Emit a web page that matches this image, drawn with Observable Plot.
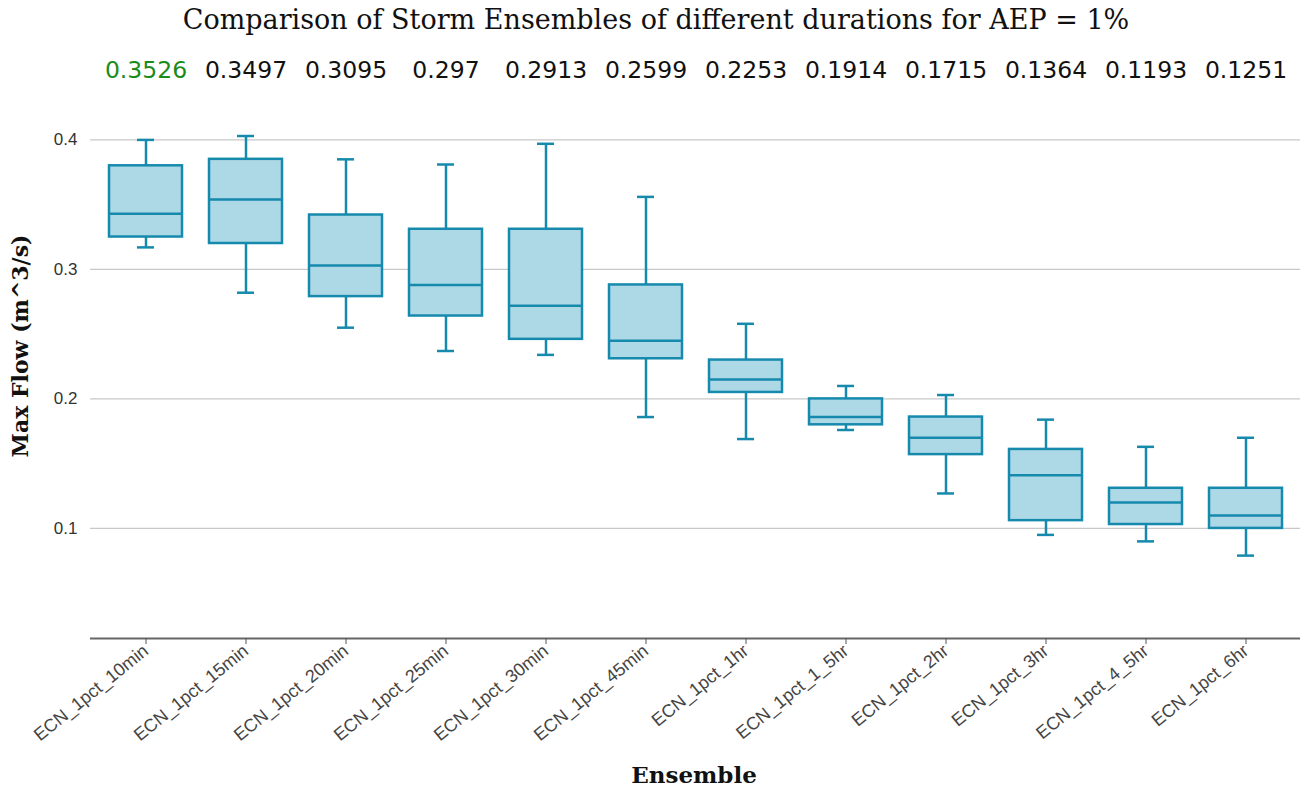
<!DOCTYPE html>
<html>
<head>
<meta charset="utf-8">
<script src="https://cdn.jsdelivr.net/npm/d3@7"></script>
<script src="https://cdn.jsdelivr.net/npm/@observablehq/plot@0.6"></script>
<style>
  html, body { margin: 0; padding: 0; background: #fff; }
  #wrap { position: relative; width: 1304px; height: 793px; }
  #title { position: absolute; top: 4px; left: 4px; width: 1304px; text-align: center;
           font-family: "DejaVu Serif", serif; font-size: 27px; color: #111; }
</style>
</head>
<body>
<div id="wrap">
  <div id="title">Comparison of Storm Ensembles of different durations for AEP = 1%</div>
</div>
<script>
const categories = ["ECN_1pct_10min","ECN_1pct_15min","ECN_1pct_20min","ECN_1pct_25min","ECN_1pct_30min","ECN_1pct_45min","ECN_1pct_1hr","ECN_1pct_1_5hr","ECN_1pct_2hr","ECN_1pct_3hr","ECN_1pct_4_5hr","ECN_1pct_6hr"];
const whiskerLow  = [0.317, 0.282, 0.255, 0.237, 0.234, 0.186, 0.169, 0.176, 0.127, 0.095, 0.090, 0.079];
const quartile1   = [0.325, 0.320, 0.279, 0.264, 0.246, 0.231, 0.205, 0.180, 0.157, 0.106, 0.103, 0.100];
const medians     = [0.343, 0.354, 0.303, 0.288, 0.272, 0.245, 0.215, 0.186, 0.170, 0.141, 0.120, 0.110];
const quartile3   = [0.380, 0.385, 0.342, 0.331, 0.331, 0.288, 0.230, 0.200, 0.186, 0.161, 0.131, 0.131];
const whiskerHigh = [0.400, 0.403, 0.385, 0.381, 0.397, 0.356, 0.258, 0.210, 0.203, 0.184, 0.163, 0.170];
const meanLabels  = ["0.3526","0.3497","0.3095","0.297","0.2913","0.2599","0.2253","0.1914","0.1715","0.1364","0.1193","0.1251"];
const highlightIndex = 0;
const yTicks = [0.1, 0.2, 0.3, 0.4];
const yTickLabels = ["0.1", "0.2", "0.3", "0.4"];
const yDomain = [0.015, 0.42];

const rows = categories.map((c, i) => ({
  cat: c, low: whiskerLow[i], q1: quartile1[i], med: medians[i], q3: quartile3[i],
  high: whiskerHigh[i], label: meanLabels[i], color: i === highlightIndex ? "#1a8c1a" : "#111"
}));

const stroke = "#168aad";
const sw = 2.5;

const chart = Plot.plot({
  width: 1304,
  height: 793,
  marginLeft: 90,
  marginRight: 4,
  marginTop: 113.5,
  marginBottom: 155,
  style: { fontFamily: "'Liberation Sans', Arial, sans-serif", background: "#fff" },
  x: { domain: categories, range: [90, 1300], paddingInner: 0.27, paddingOuter: 0.135 },
  y: { domain: yDomain },
  color: { type: "identity" },
  marks: [
    Plot.ruleY(yTicks, { stroke: "#c8c8c8", strokeWidth: 1.2 }),
    Plot.ruleY([yDomain[0]], { stroke: "#666", strokeWidth: 2 }),
    Plot.ruleX(rows, { x: "cat", y1: "low", y2: "q1", stroke, strokeWidth: sw }),
    Plot.ruleX(rows, { x: "cat", y1: "q3", y2: "high", stroke, strokeWidth: sw }),
    Plot.barY(rows, { x: "cat", y1: "q1", y2: "q3", fill: "#add8e6", stroke, strokeWidth: sw }),
    Plot.tickY(rows, { x: "cat", y: "med", stroke, strokeWidth: sw }),
    Plot.tickY(rows, { x: "cat", y: "low", stroke, strokeWidth: sw, insetLeft: 28, insetRight: 28 }),
    Plot.tickY(rows, { x: "cat", y: "high", stroke, strokeWidth: sw, insetLeft: 28, insetRight: 28 }),
    Plot.text(rows, { x: "cat", text: "label", frameAnchor: "top", dy: -53, fill: "color",
      fontSize: 23.5, fontFamily: "'DejaVu Sans', sans-serif" }),
    Plot.axisY({ ticks: yTicks, tickFormat: (d, i) => yTickLabels[i], tickSize: 0, tickPadding: 13, label: null, fontSize: 17, fill: "#333" }),
    Plot.axisX({ tickRotate: -39, tickSize: 6, tickPadding: 4, label: null, fontSize: 18, fill: "#444", stroke: "#555" })
  ]
});

document.getElementById("wrap").appendChild(chart);
const svg = d3.select(chart);
svg.append("text")
  .attr("transform", "translate(22,346) rotate(-90)")
  .attr("text-anchor", "middle").attr("dominant-baseline", "middle")
  .attr("font-family", "'DejaVu Serif', serif").attr("font-weight", "bold")
  .attr("font-size", 22).attr("fill", "#111")
  .text("Max Flow (m^3/s)");
svg.append("text")
  .attr("x", 694).attr("y", 777)
  .attr("text-anchor", "middle").attr("dominant-baseline", "middle")
  .attr("font-family", "'DejaVu Serif', serif").attr("font-weight", "bold")
  .attr("font-size", 23).attr("fill", "#111")
  .text("Ensemble");
</script>
</body>
</html>
